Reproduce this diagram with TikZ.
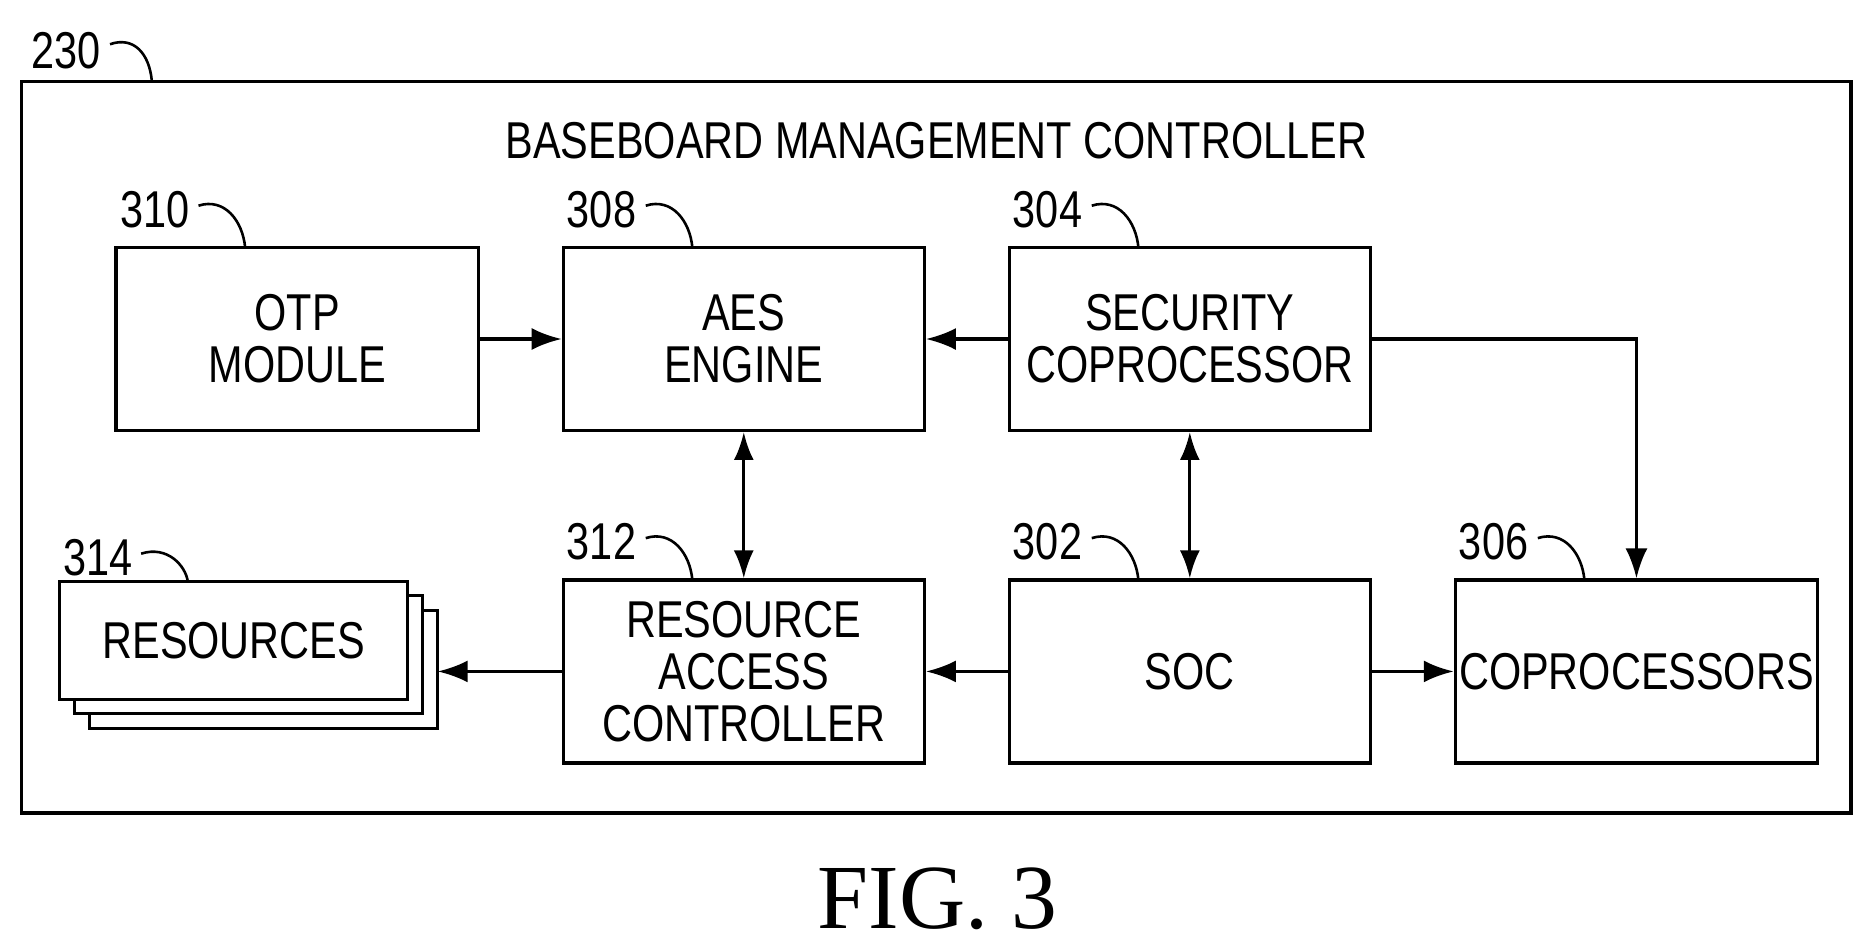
\documentclass[tikz,border=0pt]{standalone}
\usepackage{fontspec}
\setmainfont{Liberation Sans}[FakeStretch=0.8]
\newfontfamily\figfont{Liberation Serif}
\usetikzlibrary{arrows.meta}
\begin{document}
\begin{tikzpicture}[x=0.6pt,y=-0.6pt,
  box/.style={draw,line width=1.6pt,inner sep=0pt,font=\fontsize{26}{26}\selectfont,align=center},
  lbl/.style={font=\fontsize{26}{26}\selectfont,inner sep=0pt},
  arr/.style={line width=1.6pt,-{Latex[length=15pt,width=11pt]}},
  darr/.style={line width=1.6pt,{Latex[length=14pt,width=10pt]}-{Latex[length=14pt,width=10pt]}},
  hook/.style={line width=1.3pt}]
\useasboundingbox (0,0) rectangle (1568,795);
\node[draw,line width=1.8pt,minimum width=1530*0.6pt,minimum height=612*0.6pt,inner sep=0pt] (bmc) at (783,374) {};
\node[lbl] (bmct) at (783,118) {BASEBOARD MANAGEMENT CONTROLLER};
\node[box,minimum width=303*0.6pt,minimum height=153*0.6pt] (otp) at (248.5,283.5) {OTP\\MODULE};
\node[box,minimum width=302*0.6pt,minimum height=153*0.6pt] (aes) at (622,283.5) {AES\\ENGINE};
\node[box,minimum width=302*0.6pt,minimum height=153*0.6pt] (sec) at (995,283.5) {SECURITY\\COPROCESSOR};
\node[box,minimum width=302*0.6pt,minimum height=153*0.6pt] (rac) at (622,561.5) {RESOURCE\\ACCESS\\CONTROLLER};
\node[box,minimum width=302*0.6pt,minimum height=153*0.6pt] (soc) at (995,561.5) {SOC};
\node[box,minimum width=303*0.6pt,minimum height=153*0.6pt] (cop) at (1368.5,561.5) {COPROCESSORS};
\node[box,fill=white,minimum width=291*0.6pt,minimum height=99*0.6pt] (res3) at (220.5,560) {};
\node[box,fill=white,minimum width=291*0.6pt,minimum height=99*0.6pt] (res2) at (208,547.5) {};
\node[box,fill=white,minimum width=291*0.6pt,minimum height=99*0.6pt] (res) at (195.5,535.5) {RESOURCES};
\draw[arr] (otp.east) -- (aes.west);
\draw[arr] (sec.west) -- (aes.west -| aes.east);
\draw[arr] (sec.east) -| (cop.north);
\draw[darr] (aes.south) -- (rac.north);
\draw[darr] (sec.south) -- (soc.north);
\draw[arr] (soc.west) -- (rac.east);
\draw[arr] (soc.east) -- (cop.west);
\coordinate (r3e) at (366,561.5);
\draw[arr] (rac.west) -- (r3e);
\node[lbl] (l230) at (55,42) {230};
\draw[hook] (92,37) .. controls (112,30) and (125,45) .. (127,68);
\node[lbl] (l310) at (130,175) {310};
\draw[hook] (166,172) .. controls (188,165) and (203,185) .. (205,207);
\node[lbl] (l308) at (503,175) {308};
\draw[hook] (540,172) .. controls (562,165) and (577,185) .. (579,207);
\node[lbl] (l304) at (876,175) {304};
\draw[hook] (913,172) .. controls (935,165) and (950,185) .. (952,207);
\node[lbl] (l312) at (503,453) {312};
\draw[hook] (540,450) .. controls (562,443) and (577,463) .. (579,485);
\node[lbl] (l302) at (876,453) {302};
\draw[hook] (913,450) .. controls (935,443) and (950,463) .. (952,485);
\node[lbl] (l306) at (1249,453) {306};
\draw[hook] (1286,450) .. controls (1308,443) and (1323,463) .. (1325,485);
\node[lbl] (l314) at (82,466) {314};
\draw[hook] (118,463) .. controls (140,456) and (155,473) .. (157,486);
\node[font=\figfont\fontsize{46}{48}\selectfont,inner sep=0pt] (fig) at (784,752) {FIG. 3};
\end{tikzpicture}
\end{document}
